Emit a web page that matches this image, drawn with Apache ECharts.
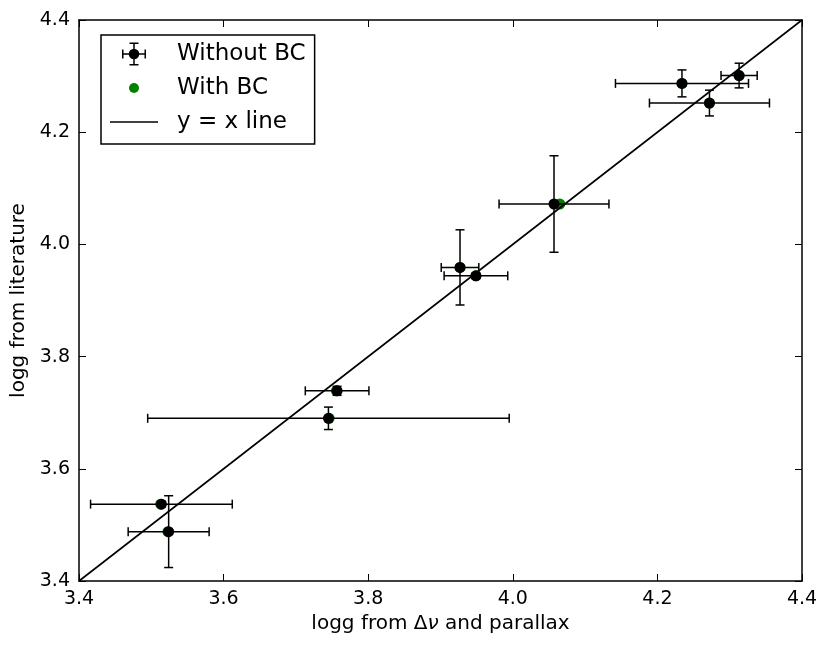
<!DOCTYPE html>
<html>
<head>
<meta charset="utf-8">
<script src="https://cdn.jsdelivr.net/npm/echarts@6/dist/echarts.min.js"></script>
<style>
html,body{margin:0;padding:0;background:#fff;}
#chart{width:830px;height:649px;}
</style>
</head>
<body>
<div id="chart"></div>
<script>
// ---- data ----
var xNoBC   = [4.234, 4.313, 4.272, 4.057, 3.927, 3.949, 3.757, 3.745, 3.514, 3.524];
var yNoBC   = [4.287, 4.301, 4.252, 4.072, 3.959, 3.944, 3.739, 3.690, 3.537, 3.488];
var xErr    = [0.092, 0.025, 0.083, 0.076, 0.026, 0.044, 0.044, 0.250, 0.098, 0.056];
var yErr    = [0.024, 0.022, 0.023, 0.086, 0.067, 0.005, 0.008, 0.020, 0.005, 0.064];
var xWithBC = [4.234, 4.313, 4.272, 4.065, 3.927, 3.949, 3.756, 3.746, 3.513, 3.523];
var yWithBC = [4.287, 4.301, 4.252, 4.072, 3.959, 3.944, 3.739, 3.690, 3.537, 3.488];
var lineX   = [3.4, 4.4];
var lineY   = [3.4, 4.4];
var axisMin = 3.4, axisMax = 4.4, axisStep = 0.2;

var FONT = 'DejaVu Sans';

var errData = xNoBC.map(function (x, i) { return [x, yNoBC[i], xErr[i], yErr[i]]; });
var ptsData = xNoBC.map(function (x, i) { return [x, yNoBC[i]]; });
var bcData  = xWithBC.map(function (x, i) { return [x, yWithBC[i]]; });
var lineData = lineX.map(function (x, i) { return [x, lineY[i]]; });

// legend icons in a common 62x24 box (corner points fix the bounding box)
var box = 'M0,0 L0,0 M62,24 L62,24 ';
var errIcon = 'path://' + box +
  'M12,11.25 H36 V12.75 H12 Z ' +
  'M23.25,0.5 H24.75 V23.5 H23.25 Z ' +
  'M19.5,0.5 H28.5 V2 H19.5 Z ' +
  'M19.5,22 H28.5 V23.5 H19.5 Z ' +
  'M12,7.5 H13.5 V16.5 H12 Z ' +
  'M34.5,7.5 H36 V16.5 H34.5 Z ' +
  'M18.7,12 A5.3,5.3 0 1,1 29.3,12 A5.3,5.3 0 1,1 18.7,12 Z';
var dotIcon = 'path://' + box + 'M19,12 A5,5 0 1,1 29,12 A5,5 0 1,1 19,12 Z';
var lineIcon = 'path://' + box + 'M0,11.25 H48 V12.75 H0 Z';

function renderErr(params, api) {
  var x = api.value(0), y = api.value(1), ex = api.value(2), ey = api.value(3);
  var l = api.coord([x - ex, y]), r = api.coord([x + ex, y]);
  var t = api.coord([x, y + ey]), b = api.coord([x, y - ey]);
  var cap = 4.5;
  var st = { stroke: '#000', lineWidth: 1.5, fill: null };
  return {
    type: 'group',
    children: [
      { type: 'line', shape: { x1: l[0], y1: l[1], x2: r[0], y2: r[1] }, style: st },
      { type: 'line', shape: { x1: l[0], y1: l[1] - cap, x2: l[0], y2: l[1] + cap }, style: st },
      { type: 'line', shape: { x1: r[0], y1: r[1] - cap, x2: r[0], y2: r[1] + cap }, style: st },
      { type: 'line', shape: { x1: t[0], y1: t[1], x2: b[0], y2: b[1] }, style: st },
      { type: 'line', shape: { x1: t[0] - cap, y1: t[1], x2: t[0] + cap, y2: t[1] }, style: st },
      { type: 'line', shape: { x1: b[0] - cap, y1: b[1], x2: b[0] + cap, y2: b[1] }, style: st }
    ]
  };
}

function axisCommon(extra) {
  var base = {
    type: 'value', min: axisMin, max: axisMax, interval: axisStep,
    axisLine: { show: true, onZero: false, lineStyle: { color: '#000', width: 1.5 } },
    axisTick: { show: true, inside: true, length: 7, lineStyle: { color: '#000', width: 1 } },
    splitLine: { show: false },
    axisLabel: { show: true, color: '#000', fontFamily: FONT, fontSize: 19, margin: 9,
      formatter: function (v) { return v.toFixed(1); } }
  };
  for (var k in extra) base[k] = extra[k];
  return base;
}

var chart = echarts.init(document.getElementById('chart'), null, { renderer: 'canvas' });
chart.setOption({
  animation: false,
  backgroundColor: '#fff',
  grid: { left: 79, right: 28, top: 20, bottom: 68 },
  legend: {
    orient: 'vertical', left: 101, top: 35,
    backgroundColor: '#fff',
    borderColor: '#000', borderWidth: 1.5, borderRadius: 0,
    padding: [7, 9, 10, 9],
    itemWidth: 62, itemHeight: 24, itemGap: 10,
    textStyle: { color: '#000', fontFamily: FONT, fontSize: 23 },
    selectedMode: false,
    data: [
      { name: 'Without BC', icon: errIcon, itemStyle: { color: '#000', borderWidth: 0 } },
      { name: 'With BC', icon: dotIcon, itemStyle: { color: '#008000', borderWidth: 0 } },
      { name: 'y = x line', icon: lineIcon, itemStyle: { color: '#000', borderWidth: 0 } }
    ]
  },
  xAxis: [
    axisCommon({
      position: 'bottom',
      name: 'logg from Δ{it|ν} and parallax',
      nameLocation: 'middle', nameGap: 33,
      nameTextStyle: { color: '#000', fontFamily: FONT, fontSize: 20,
        rich: { it: { fontStyle: 'italic', fontFamily: FONT, fontSize: 20, color: '#000' } } }
    }),
    axisCommon({ position: 'top', axisLabel: { show: false } })
  ],
  yAxis: [
    axisCommon({
      position: 'left',
      name: 'logg from literature',
      nameLocation: 'middle', nameGap: 44,
      nameTextStyle: { color: '#000', fontFamily: FONT, fontSize: 20 }
    }),
    axisCommon({ position: 'right', axisLabel: { show: false } })
  ],
  series: [
    {
      name: 'With BC', type: 'scatter', data: bcData, symbol: 'circle', symbolSize: 11,
      itemStyle: { color: '#008000', opacity: 1 }, z: 2, silent: true
    },
    {
      name: 'Without BC', type: 'custom', data: errData, renderItem: renderErr,
      encode: { x: 0, y: 1 }, z: 3, silent: true, itemStyle: { color: '#000' }
    },
    {
      name: 'Without BC', type: 'scatter', data: ptsData, symbol: 'circle', symbolSize: 11,
      itemStyle: { color: '#000', opacity: 1 }, z: 4, silent: true
    },
    {
      name: 'y = x line', type: 'line', data: lineData, symbol: 'none',
      lineStyle: { color: '#000', width: 1.6 }, itemStyle: { color: '#000' }, z: 5, silent: true
    }
  ]
});
</script>
</body>
</html>
